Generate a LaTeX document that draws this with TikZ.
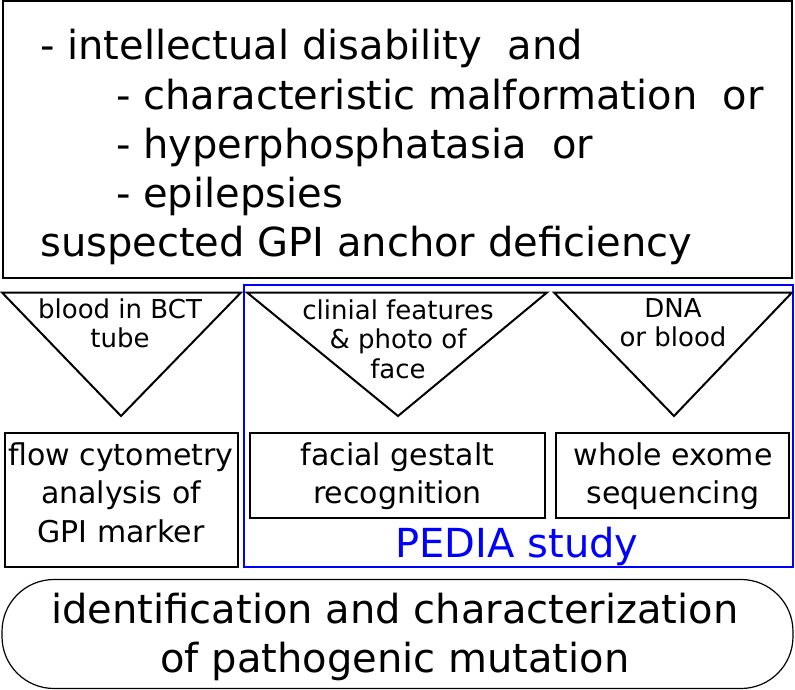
\documentclass[tikz,border=0pt]{standalone}
\usepackage{fontspec}
\setmainfont{DejaVu Sans}
\definecolor{pediablue}{RGB}{0,0,255}
\begin{document}
\begin{tikzpicture}[x=1pt,y=-1pt,
  frame/.style={draw=black, line width=2pt},
  tri/.style={draw=black, line width=2pt, line join=miter},
  big/.style={font=\fontsize{40}{49.25}\selectfont},
  mid/.style={font=\fontsize{30}{38.5}\selectfont},
  small/.style={font=\fontsize{26}{29.5}\selectfont},
  txt/.style={inner sep=0pt, anchor=base},
]
\useasboundingbox (0,0) rectangle (795,690);
% top criteria box
\coordinate (topnw) at (2.5,1.5);
\coordinate (topse) at (792,278);
\draw[frame] (topnw) rectangle (topse);
\node[txt, big, anchor=base west] (crit) at (40,60) {\begin{tabular}[t]{@{}l@{}}
- intellectual disability\ \ and\\
\hspace*{76pt}- characteristic malformation\ \ or\\
\hspace*{76pt}- hyperphosphatasia\ \ or\\
\hspace*{76pt}- epilepsies\\
suspected GPI anchor deficiency
\end{tabular}};
% PEDIA frame
\coordinate (pnw) at (244,285);
\coordinate (pse) at (793,566.5);
\draw[draw=pediablue, line width=2pt] (pnw) rectangle (pse);
% triangles
\coordinate (t1a) at (2,292.5); \coordinate (t1b) at (241,292.5); \coordinate (t1c) at (121,416);
\draw[tri] (t1a) -- (t1b) -- (t1c) -- cycle;
\node[txt, small] (t1txt) at (120,318) {\begin{tabular}[t]{@{}c@{}}blood in BCT\\tube\end{tabular}};
\coordinate (t2a) at (247,292.5); \coordinate (t2b) at (547,292.5); \coordinate (t2c) at (398,416);
\draw[tri] (t2a) -- (t2b) -- (t2c) -- cycle;
\node[txt, small] (t2txt) at (398,319) {\begin{tabular}[t]{@{}c@{}}clinial features\\\& photo of\\face\end{tabular}};
\coordinate (t3a) at (554,292.5); \coordinate (t3b) at (792,292.5); \coordinate (t3c) at (674,416);
\draw[tri] (t3a) -- (t3b) -- (t3c) -- cycle;
\node[txt, small] (t3txt) at (673,317) {\begin{tabular}[t]{@{}c@{}}DNA\\or blood\end{tabular}};
% method boxes
\coordinate (b1nw) at (4.5,432.5); \coordinate (b1se) at (237.5,566.5);
\draw[frame] (b1nw) rectangle (b1se);
\node[txt, mid] (b1txt) at (121,465) {\begin{tabular}[t]{@{}c@{}}flow cytometry\\analysis of\\GPI marker\end{tabular}};
\coordinate (b2nw) at (250,432.5); \coordinate (b2se) at (545,518);
\draw[frame] (b2nw) rectangle (b2se);
\node[txt, mid] (b2txt) at (397.5,465) {\begin{tabular}[t]{@{}c@{}}facial gestalt\\recognition\end{tabular}};
\coordinate (b3nw) at (556,432.5); \coordinate (b3se) at (789,518);
\draw[frame] (b3nw) rectangle (b3se);
\node[txt, mid] (b3txt) at (673,465) {\begin{tabular}[t]{@{}c@{}}whole exome\\sequencing\end{tabular}};
\node[txt, font=\fontsize{40}{48}\selectfont, text=pediablue] (pedia) at (517,557) {PEDIA study};
% result
\coordinate (rnw) at (2,579.5); \coordinate (rse) at (793,688.5);
\draw[line width=1.2pt, rounded corners=52pt] (rnw) rectangle (rse);
\node[txt, font=\fontsize{40}{49}\selectfont] (res) at (395,623) {\begin{tabular}[t]{@{}c@{}}identification and characterization\\of pathogenic mutation\end{tabular}};
\end{tikzpicture}
\end{document}
